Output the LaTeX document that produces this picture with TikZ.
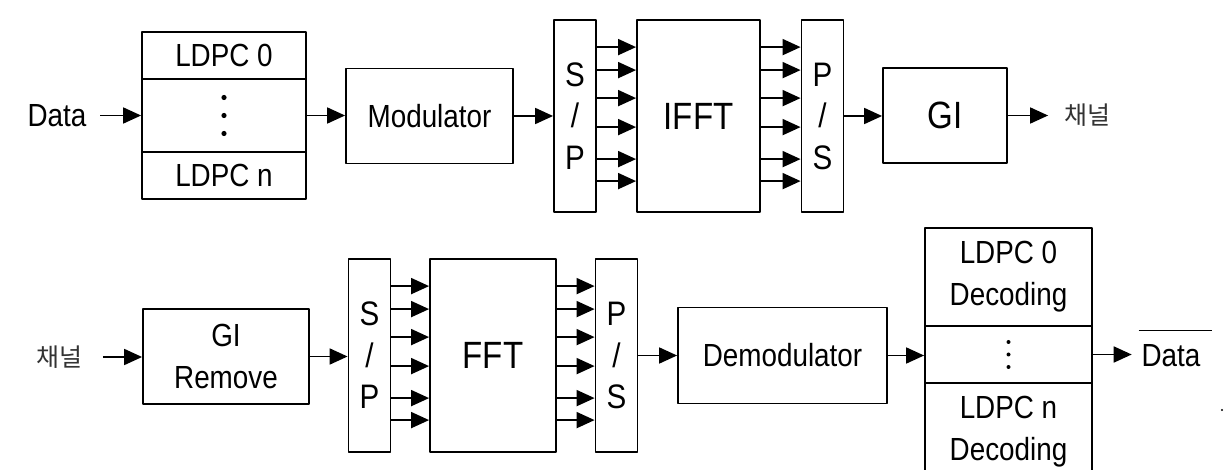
\documentclass[tikz,border=0pt]{standalone}
\usepackage{fontspec}
\setmainfont{Liberation Sans}[FakeStretch=0.87]
\newfontfamily\krfont{Noto Sans CJK KR}
\usetikzlibrary{arrows.meta}

\begin{document}
\begin{tikzpicture}[x=1pt, y=-1pt, line width=1.8pt, line join=round,
  blk/.style={draw, rectangle, inner sep=0pt, align=center, font=\fontsize{32}{42}\selectfont},
  bus/.style={blk, minimum width=42pt, minimum height=192pt, font=\fontsize{34}{41.5}\selectfont},
  big/.style={blk, font=\fontsize{38}{40}\selectfont},
  lbl/.style={inner sep=0pt, font=\fontsize{32}{36}\selectfont},
  kr/.style={inner sep=0pt, text=black!80, font=\krfont\fontsize{25}{28}\selectfont},
  arr/.style={-{Triangle[length=18pt,width=16pt]}, line width=1.8pt}]

  %% ════ 发送端（上排）════
  \node[lbl] (dataIn) at (57,115.5) {Data};
  \node[blk, minimum width=164pt, minimum height=47pt] (enc0) at (224,55.5) {LDPC 0};
  \node[blk, minimum width=164pt, minimum height=73pt] (encD) at (224,115.5) {};
  \node[blk, minimum width=164pt, minimum height=47pt] (encN) at (224,175.5) {LDPC n};
  \node[blk, minimum width=167pt, minimum height=95pt] (mod) at (429.5,116) {Modulator};
  \node[bus] (sp1) at (575,116) {S\\/\\P};
  \node[big, minimum width=123pt, minimum height=192pt] (ifft) at (698.5,116) {IFFT};
  \node[bus] (ps1) at (822.5,116) {P\\/\\S};
  \node[big, minimum width=124pt, minimum height=95pt] (gi) at (945,115.5) {GI};
  \node[kr] (chOut) at (1087,115) {채널};

  %% ════ 接收端（下排）════
  \node[kr] (chIn) at (59,357) {채널};
  \node[blk, minimum width=166pt, minimum height=95pt] (girm) at (226,356.5) {GI\\Remove};
  \node[bus, minimum height=193pt] (sp2) at (369.5,355.5) {S\\/\\P};
  \node[big, minimum width=126pt, minimum height=193pt] (fft) at (493,355.5) {FFT};
  \node[bus, minimum height=193pt] (ps2) at (616.5,355.5) {P\\/\\S};
  \node[blk, minimum width=209pt, minimum height=96pt] (demod) at (782.5,355.5) {Demodulator};
  \node[blk, minimum width=167pt, minimum height=98pt] (dec0) at (1008.5,277) {LDPC 0\\Decoding};
  \node[blk, minimum width=167pt, minimum height=57pt] (decD) at (1008.5,354.5) {};
  \node[blk, minimum width=167pt, minimum height=98pt] (decN) at (1008.5,432) {LDPC n\\Decoding};
  \node[lbl] (dataOut) at (1171,355.5) {Data};

  %% ════ 省略点 ════
  \foreach \d in {18,0,-18} \fill ([yshift=\d pt]encD.center) circle (2.6pt);
  \foreach \d in {12.5,0,-12.5} \fill ([yshift=\d pt]decD.center) circle (2pt);

  %% ════ 主链箭头 ════
  \draw[arr, shorten <=13pt] (dataIn.east) -- (dataIn.east -| encD.west);
  \draw[arr] (encD.east) -- (encD.east -| mod.west);
  \draw[arr] (mod.east) -- (mod.east -| sp1.west);
  \draw[arr] (ps1.east) -- (ps1.east -| gi.west);
  \draw[arr, shorten >=15pt] (gi.east) -- (gi.east -| chOut.west);
  \draw[arr, shorten <=20pt] (chIn.east) -- (chIn.east -| girm.west);
  \draw[arr] (girm.east) -- (girm.east -| sp2.west);
  \draw[arr] (ps2.east) -- (ps2.east -| demod.west);
  \draw[arr] (demod.east) -- (demod.east -| decD.west);
  \draw[arr, shorten >=9pt] (decD.east) -- (decD.east -| dataOut.west);

  %% ════ 并行支路（6 条）════
  \foreach \o in {28,51,79,108,140,162} {
    \draw[arr] ([yshift=-\o pt]sp1.north east) -- ([yshift=-\o pt]ifft.north west);
    \draw[arr] ([yshift=-\o pt]ifft.north east) -- ([yshift=-\o pt]ps1.north west);
    \draw[arr] ([yshift=-\o pt]sp2.north east) -- ([yshift=-\o pt]fft.north west);
    \draw[arr] ([yshift=-\o pt]fft.north east) -- ([yshift=-\o pt]ps2.north west);
  }

  %% ════ Data 上划线 / 杂点 ════
  \draw[line width=1.4pt] ([shift={(-2,-13)}]dataOut.north west) -- ++(73,0);
  \fill (1222,410) circle (1.2pt);

  % 钉死画布
  \pgfresetboundingbox
  \path[use as bounding box] (0,0) rectangle (1224,470);
\end{tikzpicture}
\end{document}
